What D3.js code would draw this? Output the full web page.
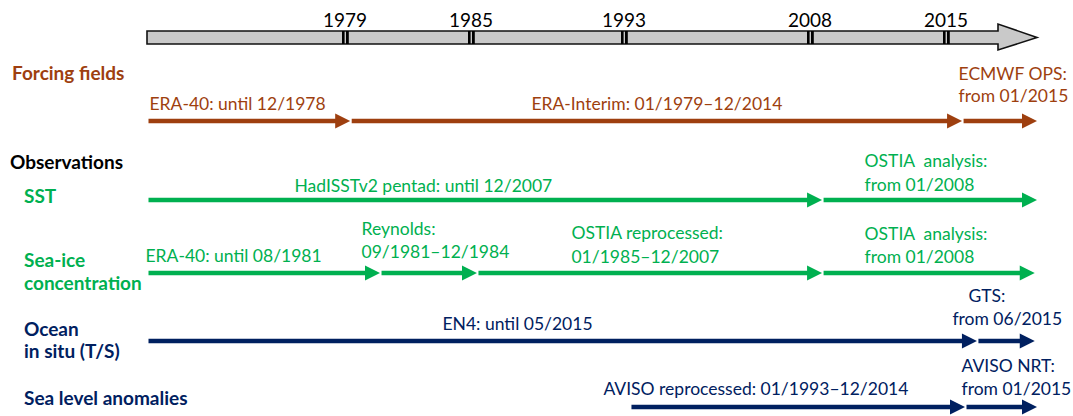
<!DOCTYPE html>
<html>
<head>
<meta charset="utf-8">
<script src="https://cdn.jsdelivr.net/npm/d3@7"></script>
<style>
  body { margin: 0; background: #fff; }
  text { font-family: Lato, "Open Sans", sans-serif; }
</style>
</head>
<body>
<script>
// timeline
const TICK_YEARS = [1979, 1985, 1993, 2008, 2015];
const START_YEAR = 1970;
const END_YEAR = 2019;

// rows (spans as [start year, end year])
const forcingSpans = [[1970, 1979.2], [1979.2, 2015.67], [2015.67, 2019]];
const forcingLabels = ["ERA-40: until 12/1978", "ERA-Interim: 01/1979\u201312/2014", "ECMWF OPS:\nfrom 01/2015"];

const sstSpans = [[1970, 2008.57], [2008.57, 2019]];
const sstLabels = ["HadISSTv2 pentad: until 12/2007", "OSTIA  analysis:\nfrom 01/2008"];

const iceSpans = [[1970, 1980.62], [1980.62, 1985.26], [1985.26, 2008.57], [2008.57, 2018.9]];
const iceLabels = ["ERA-40: until 08/1981", "Reynolds:\n09/1981\u201312/1984", "OSTIA reprocessed:\n01/1985\u201312/2007", "OSTIA  analysis:\nfrom 01/2008"];

const oceanSpans = [[1970, 2016.33], [2016.33, 2018.9]];
const oceanLabels = ["EN4: until 05/2015", "GTS:\nfrom 06/2015"];

const slaSpans = [[1993.4, 2015.8], [2015.8, 2019]];
const slaLabels = ["AVISO reprocessed: 01/1993\u201312/2014", "AVISO NRT:\nfrom 01/2015"];

const BROWN = "#9e3f0f", GREEN = "#00b050", NAVY = "#002060";

// layout
const WIDTH = 1073, HEIGHT = 416;
const X_RANGE = [147, 346, 472, 625, 811, 947, 1037];

// label placement: per label, per line [dx from span start, dy from row]
const ROWS = [
  {spans: forcingSpans, labels: forcingLabels, color: BROWN, y: 121,
   pos: [[[1, -11]], [["mid", -11]], [[-5, -41], [-5, -19]]]},
  {spans: sstSpans, labels: sstLabels, color: GREEN, y: 200,
   pos: [[[146, -8]], [[41, -33], [41, -9]]]},
  {spans: iceSpans, labels: iceLabels, color: GREEN, y: 273,
   pos: [[[-3, -11]], [[-20, -38], [-20, -15]], [[93, -34], [93, -10]], [[41, -33], [41, -10]]]},
  {spans: oceanSpans, labels: oceanLabels, color: NAVY, y: 341,
   pos: [[[294, -11]], [[-10, -39], [-26, -16]]]},
  {spans: slaSpans, labels: slaLabels, color: NAVY, y: 407,
   pos: [[[-28, -12]], [[-5, -35], [-5, -12]]]}
];

const HEADINGS = [
  {text: "Forcing fields", x: 12, y: 80, color: BROWN},
  {text: "Observations", x: 10, y: 169, color: "#000"},
  {text: "SST", x: 24, y: 203, color: GREEN},
  {text: "Sea-ice", x: 24, y: 267, color: GREEN},
  {text: "concentration", x: 24, y: 290, color: GREEN},
  {text: "Ocean", x: 24, y: 336, color: NAVY},
  {text: "in situ (T/S)", x: 24, y: 358, color: NAVY},
  {text: "Sea level anomalies", x: 24, y: 405, color: NAVY}
];

const svg = d3.select("body").append("svg")
    .attr("width", WIDTH)
    .attr("height", HEIGHT);

// piecewise scale, ticks are not evenly spaced in the original
const x = d3.scaleLinear()
    .domain([START_YEAR].concat(TICK_YEARS, [END_YEAR]))
    .range(X_RANGE);

// big grey timeline arrow
const barTop = 31, barBot = 44, headTop = 24, headBot = 50, headLen = 39;
const x0 = x(START_YEAR), x1 = x(END_YEAR);
svg.append("path")
    .attr("d", `M${x0},${barTop}H${x1 - headLen}V${headTop}L${x1},${(barTop + barBot) / 2}L${x1 - headLen},${headBot}V${barBot}H${x0}Z`)
    .attr("fill", "#c9c9c9")
    .attr("stroke", "#111")
    .attr("stroke-width", 1.6);

const ticks = svg.append("g").selectAll("g")
    .data(TICK_YEARS)
    .join("g")
    .attr("transform", d => `translate(${x(d)},0)`);

ticks.append("rect").attr("x", -4).attr("y", barTop).attr("width", 2.6).attr("height", barBot - barTop).attr("fill", "#000");
ticks.append("rect").attr("x", 0).attr("y", barTop).attr("width", 2.8).attr("height", barBot - barTop).attr("fill", "#000");
ticks.append("text")
    .attr("x", -1)
    .attr("y", 27)
    .attr("text-anchor", "middle")
    .attr("font-size", 19)
    .attr("fill", "#000")
    .text(d => d);

// headings on the left
svg.append("g").selectAll("text")
    .data(HEADINGS)
    .join("text")
    .attr("x", d => d.x)
    .attr("y", d => d.y)
    .attr("font-size", 19)
    .attr("font-weight", "bold")
    .attr("fill", d => d.color)
    .text(d => d.text);

// arrows
const HEAD_L = 15, HEAD_W = 7.5, GAP = 1.5;

ROWS.forEach(row => {
  const g = svg.append("g");
  row.spans.forEach((s, i) => {
    const xs = x(s[0]) + GAP, xe = x(s[1]);
    g.append("line")
        .attr("x1", xs).attr("x2", xe - HEAD_L + 1)
        .attr("y1", row.y).attr("y2", row.y)
        .attr("stroke", row.color)
        .attr("stroke-width", 4.6);
    g.append("path")
        .attr("d", `M${xe - HEAD_L},${row.y - HEAD_W}L${xe},${row.y}L${xe - HEAD_L},${row.y + HEAD_W}Z`)
        .attr("fill", row.color);

    const lines = row.labels[i].split("\n");
    lines.forEach((t, j) => {
      const p = row.pos[i][j];
      const mid = p[0] === "mid";
      g.append("text")
          .attr("x", mid ? (xs + xe) / 2 : xs + p[0])
          .attr("y", row.y + p[1])
          .attr("text-anchor", mid ? "middle" : "start")
          .attr("font-size", 17.5)
          .attr("fill", row.color)
          .style("white-space", "pre")
          .text(t);
    });
  });
});
</script>
</body>
</html>
